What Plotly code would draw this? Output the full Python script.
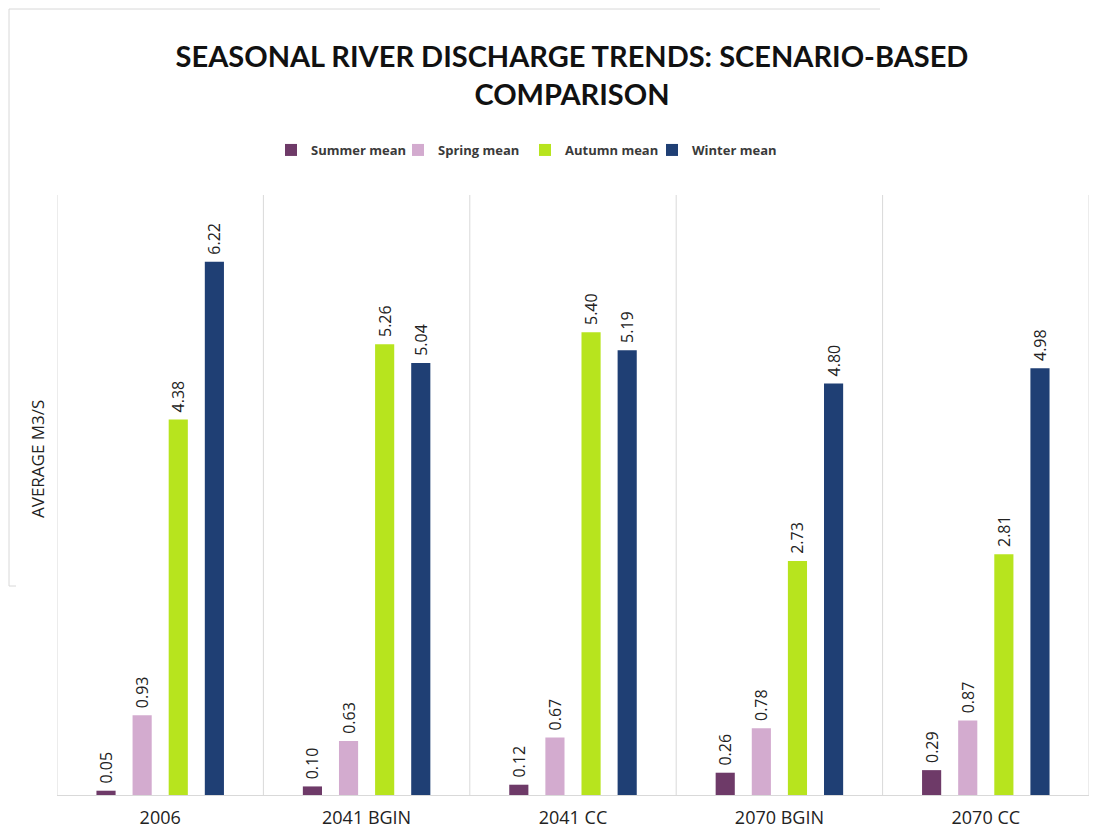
import plotly.graph_objects as go

categories = ["2006", "2041 BGIN", "2041 CC", "2070 BGIN", "2070 CC"]
summer_mean = [0.05, 0.10, 0.12, 0.26, 0.29]
spring_mean = [0.93, 0.63, 0.67, 0.78, 0.87]
autumn_mean = [4.38, 5.26, 5.40, 2.73, 2.81]
winter_mean = [6.22, 5.04, 5.19, 4.80, 4.98]

series = [
    ("Summer mean", summer_mean, "#6e3a68"),
    ("Spring mean", spring_mean, "#d3abcf"),
    ("Autumn mean", autumn_mean, "#b7e41e"),
    ("Winter mean", winter_mean, "#1f3f74"),
]

fig = go.Figure()
for name, vals, color in series:
    fig.add_trace(go.Bar(
        name=name, x=categories, y=vals,
        marker=dict(color=color, line=dict(width=0)),
        text=["\u00a0" + f"{v:.2f}" for v in vals],
        textposition="outside", textangle=-90, constraintext="none",
        textfont=dict(family="Open Sans", size=16, color="#222222"),
        cliponaxis=False,
    ))

# page body offsets the figure by 8px; layout compensates
PL, PT, PR, PB = 49, 187, 18, 50
PW = 1099 - PL - PR
PH = 837 - PT - PB

def px_x(sx):
    return (sx - 8 - PL) / PW

def px_y(sy):
    return (837 - PB - (sy - 8)) / PH

shapes = []
n = len(categories)
for i in range(n + 1):
    shapes.append(dict(type="line", xref="x", yref="paper",
                       x0=i - 0.5, x1=i - 0.5, y0=0, y1=1,
                       line=dict(color="#d9d9d9", width=1), layer="below"))
# faint frame artifact from the source screenshot
shapes.append(dict(type="line", xref="paper", yref="paper", x0=px_x(9), x1=px_x(880), y0=px_y(9), y1=px_y(9),
                   line=dict(color="#d8d8d8", width=1)))
shapes.append(dict(type="line", xref="paper", yref="paper", x0=px_x(9), x1=px_x(9), y0=px_y(9), y1=px_y(586),
                   line=dict(color="#d8d8d8", width=1)))
shapes.append(dict(type="line", xref="paper", yref="paper", x0=px_x(9), x1=px_x(16), y0=px_y(586), y1=px_y(586),
                   line=dict(color="#d8d8d8", width=1)))

fig.update_layout(
    width=1099, height=837,
    margin=dict(l=PL, r=PR, t=PT, b=PB),
    paper_bgcolor="white", plot_bgcolor="white",
    barmode="group", bargap=0.30, bargroupgap=0.47,
    title=dict(
        text="<b>SEASONAL RIVER DISCHARGE TRENDS: SCENARIO-BASED<br>COMPARISON</b>",
        x=564 / 1099, xanchor="center", y=1 - 59 / 837, yanchor="middle", yref="container",
        font=dict(family="Lato", size=29, color="#111111"),
    ),
    legend=dict(
        orientation="h", x=px_x(271), xanchor="left", y=px_y(150), yanchor="middle",
        font=dict(family="Open Sans", size=13, color="#3a3a3a", weight="bold"),
        entrywidth=82, entrywidthmode="pixels", traceorder="normal",
    ),
    xaxis=dict(
        showgrid=False, showline=True, linecolor="#d9d9d9", linewidth=1,
        ticks="", tickfont=dict(family="Open Sans", size=18, color="#222222"),
        ticklabelstandoff=6,
        range=[-0.5, n - 0.5],
    ),
    yaxis=dict(
        range=[0, 7], showgrid=False, showticklabels=False, zeroline=False, ticks="",
        showline=False,
    ),
    shapes=shapes,
    annotations=[dict(
        text="AVERAGE M3/S", textangle=-90, xref="paper", yref="paper",
        x=px_x(38), y=px_y(459), xanchor="center", yanchor="middle", showarrow=False,
        font=dict(family="Open Sans", size=17, color="#222222"),
    )],
)

fig.write_html("out.html")
